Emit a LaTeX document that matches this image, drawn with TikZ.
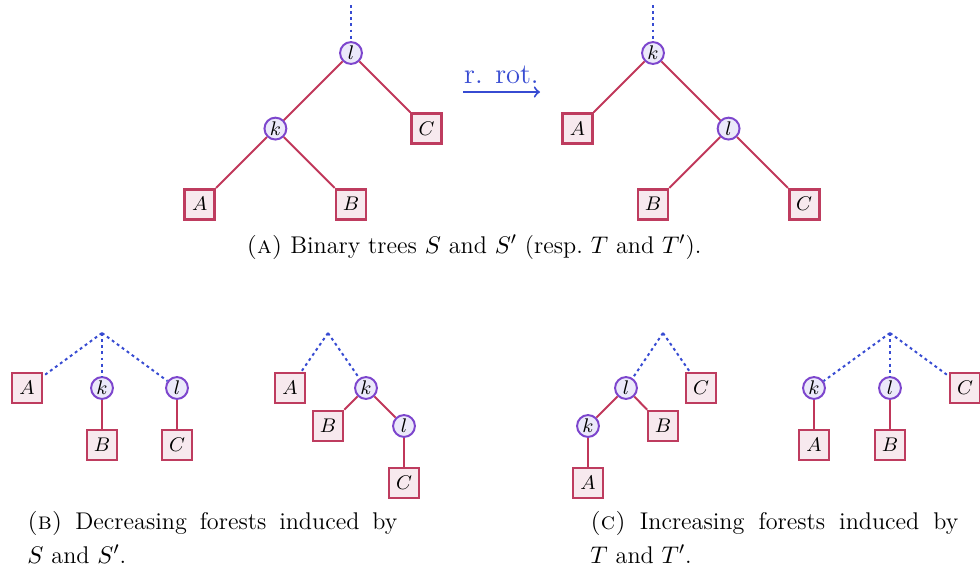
\documentclass[tikz,border=0pt]{standalone}
\usepackage{amsmath}
\usepackage{amssymb}
\usepackage{tikz}
\usetikzlibrary{positioning}

\definecolor{edgered}{RGB}{192,55,90}
\definecolor{leafred}{RGB}{190,60,95}
\definecolor{leaffill}{RGB}{247,233,238}
\definecolor{vertpurple}{RGB}{125,70,205}
\definecolor{vertfill}{RGB}{235,233,250}
\definecolor{rootblue}{RGB}{55,75,210}

\tikzset{node distance=1.21cm and 1.21cm, on grid, auto,
  leaf/.style={draw=leafred, fill=leaffill, line width=1.2pt, rectangle,
    minimum size=0.48cm, inner sep=0pt, font=\fontsize{9}{11}\selectfont},
  vert/.style={draw=vertpurple, fill=vertfill, line width=0.9pt, circle,
    minimum size=0.35cm, inner sep=0pt, font=\fontsize{9}{11}\selectfont},
  branch/.style={draw=edgered, line width=0.9pt},
  dotline/.style={draw=rootblue, line width=0.9pt, dash pattern=on 1.3pt off 1.5pt},
  rotarrow/.style={->, draw=rootblue, line width=0.9pt},
  captext/.style={inner sep=0pt, font=\fontsize{11}{15}\selectfont}}

\begin{document}
\begin{tikzpicture}[x=0.016cm, y=-0.016cm]
  \useasboundingbox (0,0) rectangle (980,571);

  % tree S
  \node[vert] (Sl) at (351,53) {$l$};
  \node[vert] (Sk) [below left=of Sl] {$k$};
  \node[leaf] (SC) [below right=of Sl] {$C$};
  \node[leaf] (SA) [below left=of Sk] {$A$};
  \node[leaf] (SB) [below right=of Sk] {$B$};
  \coordinate (Stop) at (351,5);
  \draw[dotline] (Stop) -- (Sl);
  \draw[branch] (Sl) -- (Sk);
  \draw[branch] (Sl) -- (SC);
  \draw[branch] (Sk) -- (SA);
  \draw[branch] (Sk) -- (SB);

  % rotation
  \coordinate (rotL) at (463,92);
  \coordinate (rotR) at (540,92);
  \draw[rotarrow] (rotL) to node[above, text=rootblue, font=\fontsize{13}{15}\selectfont] {r. rot.} (rotR);

  % tree S'
  \node[vert] (Tk) at (653,53) {$k$};
  \node[leaf] (TA) [below left=of Tk] {$A$};
  \node[vert] (Tl) [below right=of Tk] {$l$};
  \node[leaf] (TB) [below left=of Tl] {$B$};
  \node[leaf] (TC) [below right=of Tl] {$C$};
  \coordinate (Ttop) at (653,5);
  \draw[dotline] (Ttop) -- (Tk);
  \draw[branch] (Tk) -- (TA);
  \draw[branch] (Tk) -- (Tl);
  \draw[branch] (Tl) -- (TB);
  \draw[branch] (Tl) -- (TC);

  \node[captext, anchor=base] (capA) at (474,253)
    {\textsc{(a)} Binary trees $S$ and $S'$ (resp.\ $T$ and $T'$).};

  % decreasing forest of S
  \coordinate (Dtop) at (102,333);
  \node[leaf] (DA) at (27,388) {$A$};
  \node[vert] (Dk) at (102,388) {$k$};
  \node[vert] (Dl) at (177,388) {$l$};
  \node[leaf] (DB) at (102,445) {$B$};
  \node[leaf] (DC) at (177,445) {$C$};
  \draw[dotline] (Dtop) -- (DA);
  \draw[dotline] (Dtop) -- (Dk);
  \draw[dotline] (Dtop) -- (Dl);
  \draw[branch] (Dk) -- (DB);
  \draw[branch] (Dl) -- (DC);

  % decreasing forest of S'
  \coordinate (Etop) at (328,333);
  \node[leaf] (EA) at (290,388) {$A$};
  \node[vert] (Ek) at (366,388) {$k$};
  \node[leaf] (EB) at (328,426) {$B$};
  \node[vert] (El) at (404,426) {$l$};
  \node[leaf] (EC) at (404,483) {$C$};
  \draw[dotline] (Etop) -- (EA);
  \draw[dotline] (Etop) -- (Ek);
  \draw[branch] (Ek) -- (EB);
  \draw[branch] (Ek) -- (El);
  \draw[branch] (El) -- (EC);

  % increasing forest of T
  \coordinate (Itop) at (663,333);
  \node[vert] (Il) at (626,388) {$l$};
  \node[leaf] (IC) at (701,388) {$C$};
  \node[vert] (Ik) at (588,426) {$k$};
  \node[leaf] (IB) at (663,426) {$B$};
  \node[leaf] (IA) at (588,483) {$A$};
  \draw[dotline] (Itop) -- (Il);
  \draw[dotline] (Itop) -- (IC);
  \draw[branch] (Il) -- (Ik);
  \draw[branch] (Il) -- (IB);
  \draw[branch] (Ik) -- (IA);

  % increasing forest of T'
  \coordinate (Jtop) at (890,333);
  \node[vert] (Jk) at (814,388) {$k$};
  \node[vert] (Jl) at (890,388) {$l$};
  \node[leaf] (JC) at (965,388) {$C$};
  \node[leaf] (JA) at (814,445) {$A$};
  \node[leaf] (JB) at (890,445) {$B$};
  \draw[dotline] (Jtop) -- (Jk);
  \draw[dotline] (Jtop) -- (Jl);
  \draw[dotline] (Jtop) -- (JC);
  \draw[branch] (Jk) -- (JA);
  \draw[branch] (Jl) -- (JB);

  % captions
  \node[captext, anchor=base west] (capB1) at (27,529)
    {\hbox to 5.92cm{\textsc{(b)} Decreasing forests induced by}};
  \node[captext, anchor=base west] (capB2) at (27,563) {$S$ and $S'$.};
  \node[captext, anchor=base west] (capC1) at (590,529)
    {\hbox to 5.89cm{\textsc{(c)} Increasing forests induced by}};
  \node[captext, anchor=base west] (capC2) at (590,563) {$T$ and $T'$.};
\end{tikzpicture}
\end{document}
